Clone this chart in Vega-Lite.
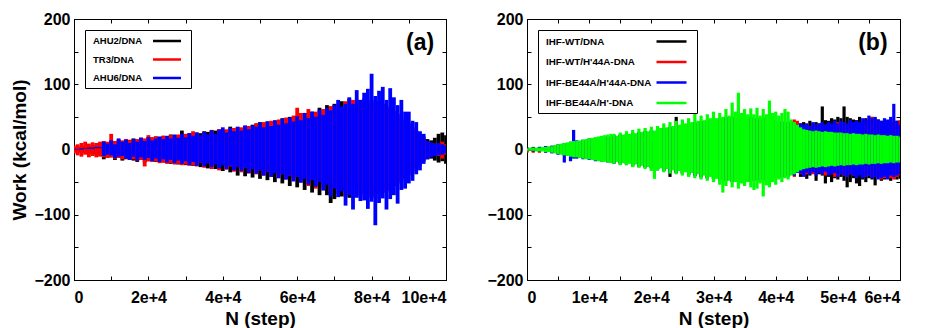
{
  "$schema": "https://vega.github.io/schema/vega-lite/v6.json",
  "padding": {"left": 10, "top": 10, "right": 5, "bottom": 2},
  "background": "white",
  "config": {
    "font": "Liberation Sans",
    "view": {"stroke": "black", "strokeWidth": 1},
    "axis": {"grid": false, "domainColor": "black", "domainWidth": 1, "tickColor": "black", "tickWidth": 1, "tickSize": -4, "labelFont": "Liberation Sans", "labelFontSize": 16, "labelFontWeight": "bold", "labelColor": "black", "titleFont": "Liberation Sans", "titleFontSize": 19, "titleFontWeight": "bold", "titleColor": "black"},
    "legend": {"orient": "top-left", "title": null, "strokeColor": "black", "fillColor": "white", "symbolType": "M-3,0H3", "symbolStrokeWidth": 2.5, "labelFont": "Liberation Sans", "labelFontWeight": "bold", "labelColor": "black", "labelAlign": "left", "padding": 5}
  },
  "datasets": {
    "a1": [{"n":0,"lo":-3,"hi":3},{"n":1000,"lo":-4,"hi":4},{"n":2000,"lo":-5,"hi":4},{"n":3000,"lo":-5,"hi":6},{"n":4000,"lo":-6,"hi":5},{"n":5000,"lo":-7,"hi":7},{"n":6000,"lo":-8,"hi":7},{"n":7000,"lo":-9,"hi":10},{"n":8000,"lo":-15,"hi":12},{"n":9000,"lo":-13,"hi":10},{"n":10000,"lo":-12,"hi":14},{"n":11000,"lo":-16,"hi":12},{"n":12000,"lo":-13,"hi":15},{"n":13000,"lo":-17,"hi":13},{"n":14000,"lo":-15,"hi":16},{"n":15000,"lo":-16,"hi":14},{"n":16000,"lo":-17,"hi":17},{"n":17000,"lo":-19,"hi":15},{"n":18000,"lo":-16,"hi":18},{"n":19000,"lo":-20,"hi":16},{"n":20000,"lo":-18,"hi":19},{"n":21000,"lo":-14,"hi":17},{"n":22000,"lo":-19,"hi":20},{"n":23000,"lo":-15,"hi":19},{"n":24000,"lo":-20,"hi":21},{"n":25000,"lo":-16,"hi":20},{"n":26000,"lo":-22,"hi":23},{"n":27000,"lo":-17,"hi":21},{"n":28000,"lo":-23,"hi":22},{"n":29000,"lo":-18,"hi":29},{"n":30000,"lo":-24,"hi":23},{"n":31000,"lo":-19,"hi":25},{"n":32000,"lo":-25,"hi":24},{"n":33000,"lo":-20,"hi":26},{"n":34000,"lo":-27,"hi":25},{"n":35000,"lo":-22,"hi":28},{"n":36000,"lo":-29,"hi":27},{"n":37000,"lo":-24,"hi":30},{"n":38000,"lo":-30,"hi":29},{"n":39000,"lo":-26,"hi":31},{"n":40000,"lo":-33,"hi":30},{"n":41000,"lo":-27,"hi":28},{"n":42000,"lo":-35,"hi":35},{"n":43000,"lo":-28,"hi":28},{"n":44000,"lo":-40,"hi":34},{"n":45000,"lo":-29,"hi":28},{"n":46000,"lo":-41,"hi":36},{"n":47000,"lo":-30,"hi":30},{"n":48000,"lo":-43,"hi":38},{"n":49000,"lo":-32,"hi":40},{"n":50000,"lo":-45,"hi":42},{"n":51000,"lo":-34,"hi":33},{"n":52000,"lo":-47,"hi":43},{"n":53000,"lo":-36,"hi":36},{"n":54000,"lo":-50,"hi":44},{"n":55000,"lo":-38,"hi":38},{"n":56000,"lo":-52,"hi":48},{"n":57000,"lo":-40,"hi":40},{"n":58000,"lo":-56,"hi":50},{"n":59000,"lo":-44,"hi":44},{"n":60000,"lo":-58,"hi":52},{"n":61000,"lo":-45,"hi":46},{"n":62000,"lo":-62,"hi":56},{"n":63000,"lo":-48,"hi":50},{"n":64000,"lo":-66,"hi":58},{"n":65000,"lo":-50,"hi":52},{"n":66000,"lo":-70,"hi":64},{"n":67000,"lo":-55,"hi":55},{"n":68000,"lo":-70,"hi":68},{"n":69000,"lo":-82,"hi":66},{"n":70000,"lo":-76,"hi":70},{"n":71000,"lo":-60,"hi":60},{"n":72000,"lo":-72,"hi":74},{"n":73000,"lo":-62,"hi":62},{"n":74000,"lo":-74,"hi":78},{"n":75000,"lo":-60,"hi":62},{"n":76000,"lo":-70,"hi":76},{"n":77000,"lo":-60,"hi":66},{"n":78000,"lo":-68,"hi":78},{"n":79000,"lo":-62,"hi":68},{"n":80000,"lo":-70,"hi":76},{"n":81000,"lo":-74,"hi":72},{"n":82000,"lo":-68,"hi":74},{"n":83000,"lo":-66,"hi":70},{"n":84000,"lo":-64,"hi":66},{"n":85000,"lo":-62,"hi":62},{"n":86000,"lo":-56,"hi":58},{"n":87000,"lo":-52,"hi":54},{"n":88000,"lo":-46,"hi":48},{"n":89000,"lo":-42,"hi":44},{"n":90000,"lo":-38,"hi":40},{"n":91000,"lo":-34,"hi":34},{"n":92000,"lo":-28,"hi":30},{"n":93000,"lo":-24,"hi":24},{"n":94000,"lo":-18,"hi":20},{"n":95000,"lo":-15,"hi":16},{"n":96000,"lo":-14,"hi":14},{"n":97000,"lo":-17,"hi":18},{"n":98000,"lo":-20,"hi":24},{"n":99000,"lo":-18,"hi":26},{"n":100000,"lo":-22,"hi":22}],
    "a2": [{"n":0,"lo":-6,"hi":6},{"n":1000,"lo":-9,"hi":8},{"n":2000,"lo":-11,"hi":10},{"n":3000,"lo":-8,"hi":12},{"n":4000,"lo":-12,"hi":9},{"n":5000,"lo":-10,"hi":11},{"n":6000,"lo":-12,"hi":10},{"n":7000,"lo":-11,"hi":12},{"n":8000,"lo":-12,"hi":13},{"n":9000,"lo":-13,"hi":12},{"n":10000,"lo":-12,"hi":24},{"n":11000,"lo":-14,"hi":13},{"n":12000,"lo":-13,"hi":15},{"n":13000,"lo":-15,"hi":14},{"n":14000,"lo":-14,"hi":16},{"n":15000,"lo":-16,"hi":15},{"n":16000,"lo":-15,"hi":16},{"n":17000,"lo":-17,"hi":16},{"n":18000,"lo":-16,"hi":18},{"n":19000,"lo":-26,"hi":17},{"n":20000,"lo":-18,"hi":22},{"n":21000,"lo":-19,"hi":19},{"n":22000,"lo":-18,"hi":20},{"n":23000,"lo":-21,"hi":19},{"n":24000,"lo":-20,"hi":21},{"n":25000,"lo":-22,"hi":20},{"n":26000,"lo":-21,"hi":22},{"n":27000,"lo":-23,"hi":21},{"n":28000,"lo":-22,"hi":23},{"n":29000,"lo":-24,"hi":22},{"n":30000,"lo":-23,"hi":24},{"n":31000,"lo":-25,"hi":23},{"n":32000,"lo":-24,"hi":28},{"n":33000,"lo":-26,"hi":25},{"n":34000,"lo":-20,"hi":20},{"n":35000,"lo":-28,"hi":27},{"n":36000,"lo":-21,"hi":21},{"n":37000,"lo":-30,"hi":29},{"n":38000,"lo":-22,"hi":23},{"n":39000,"lo":-32,"hi":31},{"n":40000,"lo":-24,"hi":24},{"n":41000,"lo":-31,"hi":31},{"n":42000,"lo":-26,"hi":26},{"n":43000,"lo":-34,"hi":33},{"n":44000,"lo":-27,"hi":28},{"n":45000,"lo":-35,"hi":34},{"n":46000,"lo":-28,"hi":29},{"n":47000,"lo":-37,"hi":36},{"n":48000,"lo":-30,"hi":31},{"n":49000,"lo":-38,"hi":40},{"n":50000,"lo":-32,"hi":33},{"n":51000,"lo":-40,"hi":42},{"n":52000,"lo":-34,"hi":35},{"n":53000,"lo":-42,"hi":44},{"n":54000,"lo":-36,"hi":37},{"n":55000,"lo":-44,"hi":46},{"n":56000,"lo":-38,"hi":39},{"n":57000,"lo":-46,"hi":49},{"n":58000,"lo":-40,"hi":41},{"n":59000,"lo":-48,"hi":52},{"n":60000,"lo":-42,"hi":64},{"n":61000,"lo":-50,"hi":56},{"n":62000,"lo":-44,"hi":45},{"n":63000,"lo":-56,"hi":62},{"n":64000,"lo":-46,"hi":48},{"n":65000,"lo":-60,"hi":58},{"n":66000,"lo":-46,"hi":48},{"n":67000,"lo":-62,"hi":62},{"n":68000,"lo":-48,"hi":50},{"n":69000,"lo":-64,"hi":66},{"n":70000,"lo":-52,"hi":54},{"n":71000,"lo":-68,"hi":70},{"n":72000,"lo":-56,"hi":56},{"n":73000,"lo":-72,"hi":74},{"n":74000,"lo":-58,"hi":58},{"n":75000,"lo":-74,"hi":76},{"n":76000,"lo":-58,"hi":60},{"n":77000,"lo":-74,"hi":76},{"n":78000,"lo":-58,"hi":62},{"n":79000,"lo":-74,"hi":76},{"n":80000,"lo":-58,"hi":60},{"n":81000,"lo":-70,"hi":72},{"n":82000,"lo":-68,"hi":70},{"n":83000,"lo":-66,"hi":68},{"n":84000,"lo":-64,"hi":66},{"n":85000,"lo":-62,"hi":62},{"n":86000,"lo":-56,"hi":58},{"n":87000,"lo":-52,"hi":54},{"n":88000,"lo":-48,"hi":50},{"n":89000,"lo":-44,"hi":44},{"n":90000,"lo":-40,"hi":40},{"n":91000,"lo":-34,"hi":34},{"n":92000,"lo":-28,"hi":28},{"n":93000,"lo":-22,"hi":22},{"n":94000,"lo":-17,"hi":17},{"n":95000,"lo":-13,"hi":13},{"n":96000,"lo":-10,"hi":10},{"n":97000,"lo":-9,"hi":9},{"n":98000,"lo":-10,"hi":10},{"n":99000,"lo":-14,"hi":12},{"n":100000,"lo":-8,"hi":8}],
    "a3": [{"n":0,"lo":0,"hi":1},{"n":1000,"lo":0,"hi":1},{"n":2000,"lo":0,"hi":2},{"n":3000,"lo":1,"hi":2},{"n":4000,"lo":1,"hi":3},{"n":5000,"lo":1,"hi":3},{"n":6000,"lo":2,"hi":4},{"n":7000,"lo":2,"hi":4},{"n":8000,"lo":-10,"hi":12},{"n":9000,"lo":-8,"hi":9},{"n":10000,"lo":-9,"hi":14},{"n":11000,"lo":-13,"hi":8},{"n":12000,"lo":-11,"hi":17},{"n":13000,"lo":-10,"hi":12},{"n":14000,"lo":-14,"hi":15},{"n":15000,"lo":-16,"hi":10},{"n":16000,"lo":-11,"hi":16},{"n":17000,"lo":-17,"hi":12},{"n":18000,"lo":-12,"hi":18},{"n":19000,"lo":-16,"hi":13},{"n":20000,"lo":-13,"hi":19},{"n":21000,"lo":-18,"hi":14},{"n":22000,"lo":-14,"hi":17},{"n":23000,"lo":-19,"hi":20},{"n":24000,"lo":-15,"hi":16},{"n":25000,"lo":-20,"hi":21},{"n":26000,"lo":-16,"hi":17},{"n":27000,"lo":-21,"hi":23},{"n":28000,"lo":-17,"hi":18},{"n":29000,"lo":-22,"hi":24},{"n":30000,"lo":-18,"hi":19},{"n":31000,"lo":-24,"hi":25},{"n":32000,"lo":-19,"hi":21},{"n":33000,"lo":-25,"hi":26},{"n":34000,"lo":-20,"hi":22},{"n":35000,"lo":-26,"hi":27},{"n":36000,"lo":-21,"hi":23},{"n":37000,"lo":-27,"hi":29},{"n":38000,"lo":-23,"hi":24},{"n":39000,"lo":-29,"hi":30},{"n":40000,"lo":-24,"hi":34},{"n":41000,"lo":-30,"hi":26},{"n":42000,"lo":-25,"hi":33},{"n":43000,"lo":-32,"hi":28},{"n":44000,"lo":-27,"hi":35},{"n":45000,"lo":-33,"hi":29},{"n":46000,"lo":-28,"hi":37},{"n":47000,"lo":-36,"hi":31},{"n":48000,"lo":-30,"hi":37},{"n":49000,"lo":-37,"hi":35},{"n":50000,"lo":-32,"hi":41},{"n":51000,"lo":-40,"hi":34},{"n":52000,"lo":-34,"hi":43},{"n":53000,"lo":-42,"hi":36},{"n":54000,"lo":-36,"hi":45},{"n":55000,"lo":-44,"hi":38},{"n":56000,"lo":-38,"hi":47},{"n":57000,"lo":-46,"hi":40},{"n":58000,"lo":-40,"hi":49},{"n":59000,"lo":-49,"hi":43},{"n":60000,"lo":-42,"hi":51},{"n":61000,"lo":-51,"hi":45},{"n":62000,"lo":-45,"hi":56},{"n":63000,"lo":-54,"hi":48},{"n":64000,"lo":-47,"hi":58},{"n":65000,"lo":-57,"hi":50},{"n":66000,"lo":-50,"hi":61},{"n":67000,"lo":-63,"hi":53},{"n":68000,"lo":-54,"hi":64},{"n":69000,"lo":-72,"hi":60},{"n":70000,"lo":-60,"hi":68},{"n":71000,"lo":-73,"hi":76},{"n":72000,"lo":-64,"hi":66},{"n":73000,"lo":-86,"hi":70},{"n":74000,"lo":-70,"hi":80},{"n":75000,"lo":-92,"hi":70},{"n":76000,"lo":-74,"hi":91},{"n":77000,"lo":-79,"hi":76},{"n":78000,"lo":-78,"hi":87},{"n":79000,"lo":-91,"hi":93},{"n":80000,"lo":-80,"hi":116},{"n":81000,"lo":-116,"hi":82},{"n":82000,"lo":-82,"hi":90},{"n":83000,"lo":-75,"hi":96},{"n":84000,"lo":-92,"hi":76},{"n":85000,"lo":-76,"hi":94},{"n":86000,"lo":-70,"hi":80},{"n":87000,"lo":-83,"hi":68},{"n":88000,"lo":-62,"hi":76},{"n":89000,"lo":-60,"hi":58},{"n":90000,"lo":-52,"hi":58},{"n":91000,"lo":-48,"hi":44},{"n":92000,"lo":-38,"hi":42},{"n":93000,"lo":-32,"hi":28},{"n":94000,"lo":-22,"hi":24},{"n":95000,"lo":-15,"hi":13},{"n":96000,"lo":-12,"hi":11},{"n":97000,"lo":-10,"hi":9},{"n":98000,"lo":-9,"hi":10},{"n":99000,"lo":-8,"hi":8},{"n":100000,"lo":-6,"hi":6}],
    "b1": [{"n":0,"lo":-3,"hi":3},{"n":1000,"lo":-3,"hi":4},{"n":2000,"lo":-4,"hi":4},{"n":3000,"lo":-4,"hi":5},{"n":4000,"lo":-5,"hi":5},{"n":5000,"lo":-7,"hi":7},{"n":6000,"lo":-9,"hi":9},{"n":7000,"lo":-10,"hi":11},{"n":8000,"lo":-12,"hi":12},{"n":9000,"lo":-13,"hi":14},{"n":10000,"lo":-14,"hi":15},{"n":11000,"lo":-16,"hi":16},{"n":12000,"lo":-17,"hi":18},{"n":13000,"lo":-18,"hi":19},{"n":14000,"lo":-20,"hi":20},{"n":15000,"lo":-21,"hi":22},{"n":16000,"lo":-22,"hi":23},{"n":17000,"lo":-24,"hi":25},{"n":18000,"lo":-25,"hi":26},{"n":19000,"lo":-27,"hi":28},{"n":20000,"lo":-28,"hi":29},{"n":21000,"lo":-30,"hi":31},{"n":22000,"lo":-32,"hi":33},{"n":23000,"lo":-42,"hi":34},{"n":24000,"lo":-36,"hi":50},{"n":25000,"lo":-37,"hi":38},{"n":26000,"lo":-39,"hi":40},{"n":27000,"lo":-40,"hi":42},{"n":28000,"lo":-42,"hi":43},{"n":29000,"lo":-44,"hi":45},{"n":30000,"lo":-45,"hi":46},{"n":31000,"lo":-47,"hi":48},{"n":32000,"lo":-48,"hi":50},{"n":33000,"lo":-50,"hi":50},{"n":34000,"lo":-50,"hi":52},{"n":35000,"lo":-50,"hi":50},{"n":36000,"lo":-49,"hi":50},{"n":37000,"lo":-48,"hi":48},{"n":38000,"lo":-47,"hi":48},{"n":39000,"lo":-46,"hi":46},{"n":40000,"lo":-44,"hi":45},{"n":41000,"lo":-42,"hi":43},{"n":42000,"lo":-40,"hi":42},{"n":42500,"lo":-38,"hi":40},{"n":43000,"lo":-40,"hi":42},{"n":43500,"lo":-36,"hi":38},{"n":44000,"lo":-42,"hi":40},{"n":44500,"lo":-38,"hi":42},{"n":45000,"lo":-45,"hi":38},{"n":45500,"lo":-40,"hi":44},{"n":46000,"lo":-36,"hi":40},{"n":46500,"lo":-48,"hi":42},{"n":47000,"lo":-38,"hi":40},{"n":47500,"lo":-40,"hi":66},{"n":48000,"lo":-52,"hi":45},{"n":48500,"lo":-42,"hi":44},{"n":49000,"lo":-50,"hi":48},{"n":49500,"lo":-44,"hi":46},{"n":50000,"lo":-46,"hi":50},{"n":50500,"lo":-42,"hi":48},{"n":51000,"lo":-48,"hi":66},{"n":51500,"lo":-58,"hi":50},{"n":52000,"lo":-50,"hi":48},{"n":52500,"lo":-44,"hi":46},{"n":53000,"lo":-52,"hi":45},{"n":53500,"lo":-56,"hi":50},{"n":54000,"lo":-46,"hi":42},{"n":54500,"lo":-50,"hi":48},{"n":55000,"lo":-44,"hi":45},{"n":55500,"lo":-46,"hi":50},{"n":56000,"lo":-55,"hi":48},{"n":56500,"lo":-42,"hi":46},{"n":57000,"lo":-48,"hi":44},{"n":57500,"lo":-46,"hi":42},{"n":58000,"lo":-44,"hi":40},{"n":58500,"lo":-48,"hi":46},{"n":59000,"lo":-40,"hi":42},{"n":59500,"lo":-46,"hi":44},{"n":60000,"lo":-45,"hi":44}],
    "b2": [{"n":0,"lo":-5,"hi":2},{"n":1000,"lo":-5,"hi":2},{"n":2000,"lo":-5,"hi":3},{"n":3000,"lo":-4,"hi":4},{"n":4000,"lo":-5,"hi":5},{"n":5000,"lo":-7,"hi":7},{"n":6000,"lo":-9,"hi":9},{"n":7000,"lo":-10,"hi":10},{"n":8000,"lo":-12,"hi":12},{"n":9000,"lo":-13,"hi":13},{"n":10000,"lo":-14,"hi":14},{"n":11000,"lo":-16,"hi":16},{"n":12000,"lo":-17,"hi":17},{"n":13000,"lo":-18,"hi":18},{"n":14000,"lo":-20,"hi":20},{"n":15000,"lo":-21,"hi":21},{"n":16000,"lo":-22,"hi":22},{"n":17000,"lo":-24,"hi":24},{"n":18000,"lo":-25,"hi":25},{"n":19000,"lo":-26,"hi":26},{"n":20000,"lo":-28,"hi":28},{"n":21000,"lo":-30,"hi":30},{"n":22000,"lo":-31,"hi":31},{"n":23000,"lo":-33,"hi":33},{"n":24000,"lo":-34,"hi":34},{"n":25000,"lo":-36,"hi":36},{"n":26000,"lo":-38,"hi":38},{"n":27000,"lo":-40,"hi":40},{"n":28000,"lo":-42,"hi":42},{"n":29000,"lo":-44,"hi":44},{"n":30000,"lo":-45,"hi":45},{"n":31000,"lo":-46,"hi":46},{"n":32000,"lo":-47,"hi":47},{"n":33000,"lo":-48,"hi":48},{"n":34000,"lo":-48,"hi":48},{"n":35000,"lo":-48,"hi":48},{"n":36000,"lo":-47,"hi":47},{"n":37000,"lo":-46,"hi":46},{"n":38000,"lo":-45,"hi":45},{"n":39000,"lo":-44,"hi":44},{"n":40000,"lo":-42,"hi":42},{"n":41000,"lo":-42,"hi":42},{"n":42000,"lo":-40,"hi":40},{"n":42500,"lo":-38,"hi":44},{"n":43000,"lo":-42,"hi":46},{"n":43500,"lo":-36,"hi":44},{"n":44000,"lo":-38,"hi":40},{"n":44500,"lo":-40,"hi":36},{"n":45000,"lo":-38,"hi":40},{"n":45500,"lo":-36,"hi":35},{"n":46000,"lo":-38,"hi":38},{"n":46500,"lo":-34,"hi":38},{"n":47000,"lo":-36,"hi":36},{"n":47500,"lo":-38,"hi":36},{"n":48000,"lo":-40,"hi":38},{"n":48500,"lo":-36,"hi":40},{"n":49000,"lo":-38,"hi":36},{"n":49500,"lo":-42,"hi":38},{"n":50000,"lo":-40,"hi":42},{"n":50500,"lo":-38,"hi":40},{"n":51000,"lo":-40,"hi":38},{"n":51500,"lo":-42,"hi":36},{"n":52000,"lo":-38,"hi":40},{"n":52500,"lo":-40,"hi":38},{"n":53000,"lo":-36,"hi":40},{"n":53500,"lo":-38,"hi":38},{"n":54000,"lo":-40,"hi":42},{"n":54500,"lo":-42,"hi":40},{"n":55000,"lo":-40,"hi":44},{"n":55500,"lo":-38,"hi":50},{"n":56000,"lo":-42,"hi":44},{"n":56500,"lo":-40,"hi":45},{"n":57000,"lo":-46,"hi":42},{"n":57500,"lo":-44,"hi":42},{"n":58000,"lo":-42,"hi":44},{"n":58500,"lo":-44,"hi":40},{"n":59000,"lo":-46,"hi":42},{"n":59500,"lo":-42,"hi":44},{"n":60000,"lo":-40,"hi":45}],
    "b3": [{"n":0,"lo":-1,"hi":2},{"n":1000,"lo":-3,"hi":3},{"n":2000,"lo":-3,"hi":4},{"n":3000,"lo":-5,"hi":5},{"n":4000,"lo":-6,"hi":6},{"n":5000,"lo":-8,"hi":8},{"n":6000,"lo":-20,"hi":10},{"n":7000,"lo":-18,"hi":12},{"n":7500,"lo":-14,"hi":30},{"n":8000,"lo":-14,"hi":14},{"n":9000,"lo":-15,"hi":15},{"n":10000,"lo":-16,"hi":17},{"n":11000,"lo":-18,"hi":18},{"n":12000,"lo":-19,"hi":19},{"n":13000,"lo":-20,"hi":20},{"n":14000,"lo":-22,"hi":22},{"n":15000,"lo":-23,"hi":23},{"n":16000,"lo":-24,"hi":24},{"n":17000,"lo":-26,"hi":26},{"n":18000,"lo":-27,"hi":27},{"n":19000,"lo":-28,"hi":28},{"n":20000,"lo":-30,"hi":30},{"n":21000,"lo":-32,"hi":32},{"n":22000,"lo":-33,"hi":33},{"n":23000,"lo":-35,"hi":35},{"n":24000,"lo":-36,"hi":36},{"n":25000,"lo":-38,"hi":38},{"n":26000,"lo":-40,"hi":40},{"n":27000,"lo":-41,"hi":41},{"n":28000,"lo":-43,"hi":43},{"n":29000,"lo":-44,"hi":44},{"n":30000,"lo":-46,"hi":46},{"n":31000,"lo":-47,"hi":47},{"n":32000,"lo":-48,"hi":48},{"n":33000,"lo":-49,"hi":49},{"n":34000,"lo":-49,"hi":49},{"n":35000,"lo":-48,"hi":48},{"n":36000,"lo":-48,"hi":48},{"n":37000,"lo":-47,"hi":47},{"n":38000,"lo":-46,"hi":46},{"n":39000,"lo":-45,"hi":45},{"n":40000,"lo":-44,"hi":44},{"n":41000,"lo":-43,"hi":43},{"n":42000,"lo":-42,"hi":42},{"n":42500,"lo":-38,"hi":40},{"n":43000,"lo":-40,"hi":36},{"n":43500,"lo":-36,"hi":38},{"n":44000,"lo":-37,"hi":40},{"n":44500,"lo":-42,"hi":38},{"n":45000,"lo":-36,"hi":40},{"n":45500,"lo":-38,"hi":36},{"n":46000,"lo":-35,"hi":42},{"n":46500,"lo":-40,"hi":38},{"n":47000,"lo":-36,"hi":40},{"n":47500,"lo":-38,"hi":42},{"n":48000,"lo":-34,"hi":38},{"n":48500,"lo":-40,"hi":42},{"n":49000,"lo":-38,"hi":40},{"n":49500,"lo":-36,"hi":44},{"n":50000,"lo":-42,"hi":40},{"n":50500,"lo":-38,"hi":44},{"n":51000,"lo":-40,"hi":42},{"n":51500,"lo":-42,"hi":40},{"n":52000,"lo":-38,"hi":45},{"n":52500,"lo":-40,"hi":42},{"n":53000,"lo":-44,"hi":44},{"n":53500,"lo":-40,"hi":42},{"n":54000,"lo":-44,"hi":48},{"n":54500,"lo":-42,"hi":46},{"n":55000,"lo":-40,"hi":52},{"n":55500,"lo":-44,"hi":48},{"n":56000,"lo":-42,"hi":50},{"n":56500,"lo":-46,"hi":46},{"n":57000,"lo":-44,"hi":44},{"n":57500,"lo":-42,"hi":48},{"n":58000,"lo":-46,"hi":46},{"n":58500,"lo":-40,"hi":50},{"n":59000,"lo":-42,"hi":70},{"n":59500,"lo":-40,"hi":44},{"n":60000,"lo":-38,"hi":38}],
    "b4": [{"n":0,"lo":-2,"hi":2},{"n":500,"lo":-2,"hi":3},{"n":1000,"lo":-2,"hi":3},{"n":1500,"lo":-3,"hi":3},{"n":2000,"lo":-3,"hi":3},{"n":2500,"lo":-3,"hi":4},{"n":3000,"lo":-4,"hi":4},{"n":3500,"lo":-4,"hi":5},{"n":4000,"lo":-5,"hi":5},{"n":4500,"lo":-6,"hi":7},{"n":5000,"lo":-7,"hi":8},{"n":5500,"lo":-8,"hi":9},{"n":6000,"lo":-9,"hi":10},{"n":6500,"lo":-10,"hi":11},{"n":7000,"lo":-11,"hi":12},{"n":7500,"lo":-12,"hi":13},{"n":8000,"lo":-12,"hi":13},{"n":8500,"lo":-13,"hi":14},{"n":9000,"lo":-14,"hi":15},{"n":9500,"lo":-15,"hi":16},{"n":10000,"lo":-15,"hi":17},{"n":10500,"lo":-16,"hi":18},{"n":11000,"lo":-17,"hi":19},{"n":11500,"lo":-18,"hi":20},{"n":12000,"lo":-19,"hi":21},{"n":12500,"lo":-19,"hi":22},{"n":13000,"lo":-20,"hi":23},{"n":13500,"lo":-21,"hi":24},{"n":14000,"lo":-22,"hi":24},{"n":14500,"lo":-19,"hi":21},{"n":15000,"lo":-24,"hi":26},{"n":15500,"lo":-21,"hi":23},{"n":16000,"lo":-24,"hi":28},{"n":16500,"lo":-22,"hi":24},{"n":17000,"lo":-27,"hi":30},{"n":17500,"lo":-23,"hi":25},{"n":18000,"lo":-28,"hi":32},{"n":18500,"lo":-25,"hi":27},{"n":19000,"lo":-30,"hi":33},{"n":19500,"lo":-27,"hi":28},{"n":20000,"lo":-33,"hi":35},{"n":20500,"lo":-45,"hi":29},{"n":21000,"lo":-32,"hi":36},{"n":21500,"lo":-29,"hi":33},{"n":22000,"lo":-35,"hi":40},{"n":22500,"lo":-30,"hi":34},{"n":23000,"lo":-37,"hi":42},{"n":23500,"lo":-32,"hi":36},{"n":24000,"lo":-38,"hi":44},{"n":24500,"lo":-33,"hi":38},{"n":25000,"lo":-40,"hi":46},{"n":25500,"lo":-35,"hi":40},{"n":26000,"lo":-42,"hi":48},{"n":26500,"lo":-36,"hi":42},{"n":27000,"lo":-44,"hi":64},{"n":27500,"lo":-38,"hi":44},{"n":28000,"lo":-46,"hi":52},{"n":28500,"lo":-40,"hi":45},{"n":29000,"lo":-48,"hi":54},{"n":29500,"lo":-42,"hi":48},{"n":30000,"lo":-50,"hi":58},{"n":30500,"lo":-45,"hi":48},{"n":31000,"lo":-54,"hi":56},{"n":31500,"lo":-66,"hi":50},{"n":32000,"lo":-56,"hi":62},{"n":32500,"lo":-48,"hi":52},{"n":33000,"lo":-58,"hi":72},{"n":33500,"lo":-50,"hi":58},{"n":34000,"lo":-60,"hi":87},{"n":34500,"lo":-52,"hi":56},{"n":35000,"lo":-56,"hi":62},{"n":35500,"lo":-50,"hi":54},{"n":36000,"lo":-58,"hi":63},{"n":36500,"lo":-62,"hi":54},{"n":37000,"lo":-60,"hi":64},{"n":37500,"lo":-52,"hi":52},{"n":38000,"lo":-72,"hi":62},{"n":38500,"lo":-55,"hi":54},{"n":39000,"lo":-58,"hi":75},{"n":39500,"lo":-50,"hi":56},{"n":40000,"lo":-54,"hi":58},{"n":40500,"lo":-46,"hi":52},{"n":41000,"lo":-50,"hi":56},{"n":41500,"lo":-44,"hi":62},{"n":42000,"lo":-46,"hi":58},{"n":42500,"lo":-40,"hi":46},{"n":43000,"lo":-38,"hi":42},{"n":43500,"lo":-35,"hi":38},{"n":44000,"lo":-32,"hi":34},{"n":44500,"lo":-30,"hi":31},{"n":45000,"lo":-29,"hi":30},{"n":45500,"lo":-28,"hi":29},{"n":46000,"lo":-27,"hi":28},{"n":46500,"lo":-28,"hi":29},{"n":47000,"lo":-27,"hi":28},{"n":47500,"lo":-26,"hi":27},{"n":48000,"lo":-27,"hi":28},{"n":48500,"lo":-26,"hi":27},{"n":49000,"lo":-25,"hi":27},{"n":49500,"lo":-26,"hi":26},{"n":50000,"lo":-25,"hi":26},{"n":50500,"lo":-24,"hi":26},{"n":51000,"lo":-25,"hi":25},{"n":51500,"lo":-24,"hi":25},{"n":52000,"lo":-24,"hi":24},{"n":52500,"lo":-23,"hi":25},{"n":53000,"lo":-24,"hi":24},{"n":53500,"lo":-23,"hi":24},{"n":54000,"lo":-23,"hi":23},{"n":54500,"lo":-22,"hi":24},{"n":55000,"lo":-23,"hi":23},{"n":55500,"lo":-22,"hi":23},{"n":56000,"lo":-22,"hi":22},{"n":56500,"lo":-21,"hi":23},{"n":57000,"lo":-22,"hi":22},{"n":57500,"lo":-21,"hi":22},{"n":58000,"lo":-21,"hi":21},{"n":58500,"lo":-20,"hi":22},{"n":59000,"lo":-21,"hi":21},{"n":59500,"lo":-20,"hi":21},{"n":60000,"lo":-20,"hi":20}]
  },
  "spacing": 39,
  "resolve": {"scale": {"color": "independent"}, "legend": {"color": "independent"}},
  "hconcat": [
    {
      "width": 372,
      "height": 261,
      "layer": [
        {
          "data": {"name": "a1"},
          "mark": {"type": "rule", "strokeWidth": 3.8, "clip": true},
          "encoding": {
            "x": {"field": "n", "type": "quantitative", "scale": {"domain": [0, 100000], "nice": false}, "axis": {"orient": "bottom", "title": "N (step)", "values": [0,10000,20000,30000,40000,50000,60000,70000,80000,90000,100000], "labelExpr": "datum.value == 0 ? '0' : (datum.value % 20000 == 0 ? (datum.value/10000) + 'e+4' : '')", "labelPadding": 13, "titlePadding": 4}},
            "y": {"field": "lo", "type": "quantitative", "scale": {"domain": [-200, 200], "nice": false}, "axis": {"orient": "left", "title": "Work (kcal/mol)", "values": [-200,-150,-100,-50,0,50,100,150,200], "labelExpr": "datum.value % 100 == 0 ? datum.label : ''", "labelPadding": 8, "titlePadding": 4}},
            "y2": {"field": "hi"},
            "color": {"datum": "AHU2/DNA", "type": "nominal", "scale": {"domain": ["AHU2/DNA", "TR3/DNA", "AHU6/DNA"], "range": ["#000000", "#ff0000", "#0000ff"]}, "legend": {"offset": 11, "symbolSize": 87, "labelFontSize": 9.5, "labelOffset": -80, "symbolOffset": 71, "rowPadding": 7.5}}
          }
        },
        {
          "data": {"name": "a2"},
          "mark": {"type": "rule", "strokeWidth": 3.8, "clip": true},
          "encoding": {
            "x": {"field": "n", "type": "quantitative", "axis": {"orient": "top", "title": null, "labels": false, "values": [0,10000,20000,30000,40000,50000,60000,70000,80000,90000,100000]}},
            "y": {"field": "lo", "type": "quantitative", "axis": {"orient": "right", "title": null, "labels": false, "values": [-200,-150,-100,-50,0,50,100,150,200]}},
            "y2": {"field": "hi"},
            "color": {"datum": "TR3/DNA", "type": "nominal"}
          }
        },
        {
          "data": {"name": "a3"},
          "mark": {"type": "rule", "strokeWidth": 3.8, "clip": true},
          "encoding": {
            "x": {"field": "n", "type": "quantitative", "axis": null},
            "y": {"field": "lo", "type": "quantitative", "axis": null},
            "y2": {"field": "hi"},
            "color": {"datum": "AHU6/DNA", "type": "nominal"}
          }
        },
        {
          "data": {"values": [{"tag": "(a)"}]},
          "mark": {"type": "text", "align": "right", "baseline": "middle", "font": "Liberation Sans", "fontSize": 23, "fontWeight": "bold", "color": "black"},
          "encoding": {
            "x": {"datum": 96800, "type": "quantitative", "axis": null},
            "y": {"datum": 163, "type": "quantitative", "axis": null},
            "text": {"field": "tag"}
          }
        }
      ]
    },
    {
      "width": 373,
      "height": 261,
      "layer": [
        {
          "data": {"name": "b1"},
          "mark": {"type": "rule", "strokeWidth": 3.2, "clip": true},
          "encoding": {
            "x": {"field": "n", "type": "quantitative", "scale": {"domain": [0, 60000], "nice": false}, "axis": {"orient": "bottom", "title": "N (step)", "values": [0,5000,10000,15000,20000,25000,30000,35000,40000,45000,50000,55000,60000], "labelExpr": "datum.value == 0 ? '0' : (datum.value % 10000 == 0 ? (datum.value/10000) + 'e+4' : '')", "labelPadding": 13, "titlePadding": 4}},
            "y": {"field": "lo", "type": "quantitative", "scale": {"domain": [-200, 200], "nice": false}, "axis": {"orient": "left", "title": null, "values": [-200,-150,-100,-50,0,50,100,150,200], "labelExpr": "datum.value % 100 == 0 ? datum.label : ''", "labelPadding": 8}},
            "y2": {"field": "hi"},
            "color": {"datum": "IHF-WT/DNA", "type": "nominal", "scale": {"domain": ["IHF-WT/DNA", "IHF-WT/H'44A-DNA", "IHF-BE44A/H'44A-DNA", "IHF-BE44A/H'-DNA"], "range": ["#000000", "#ff0000", "#0000ff", "#00ff00"]}, "legend": {"offset": 11, "symbolSize": 100, "labelFontSize": 9.8, "labelOffset": -132, "symbolOffset": 122, "rowPadding": 8.5}}
          }
        },
        {
          "data": {"name": "b2"},
          "mark": {"type": "rule", "strokeWidth": 3.2, "clip": true},
          "encoding": {
            "x": {"field": "n", "type": "quantitative", "axis": {"orient": "top", "title": null, "labels": false, "values": [0,5000,10000,15000,20000,25000,30000,35000,40000,45000,50000,55000,60000]}},
            "y": {"field": "lo", "type": "quantitative", "axis": {"orient": "right", "title": null, "labels": false, "values": [-200,-150,-100,-50,0,50,100,150,200]}},
            "y2": {"field": "hi"},
            "color": {"datum": "IHF-WT/H'44A-DNA", "type": "nominal"}
          }
        },
        {
          "data": {"name": "b3"},
          "mark": {"type": "rule", "strokeWidth": 3.2, "clip": true},
          "encoding": {
            "x": {"field": "n", "type": "quantitative", "axis": null},
            "y": {"field": "lo", "type": "quantitative", "axis": null},
            "y2": {"field": "hi"},
            "color": {"datum": "IHF-BE44A/H'44A-DNA", "type": "nominal"}
          }
        },
        {
          "data": {"name": "b4"},
          "mark": {"type": "rule", "strokeWidth": 3.2, "clip": true},
          "encoding": {
            "x": {"field": "n", "type": "quantitative", "axis": null},
            "y": {"field": "lo", "type": "quantitative", "axis": null},
            "y2": {"field": "hi"},
            "color": {"datum": "IHF-BE44A/H'-DNA", "type": "nominal"}
          }
        },
        {
          "data": {"values": [{"tag": "(b)"}]},
          "mark": {"type": "text", "align": "right", "baseline": "middle", "font": "Liberation Sans", "fontSize": 23, "fontWeight": "bold", "color": "black"},
          "encoding": {
            "x": {"datum": 58000, "type": "quantitative", "axis": null},
            "y": {"datum": 163, "type": "quantitative", "axis": null},
            "text": {"field": "tag"}
          }
        }
      ]
    }
  ]
}
